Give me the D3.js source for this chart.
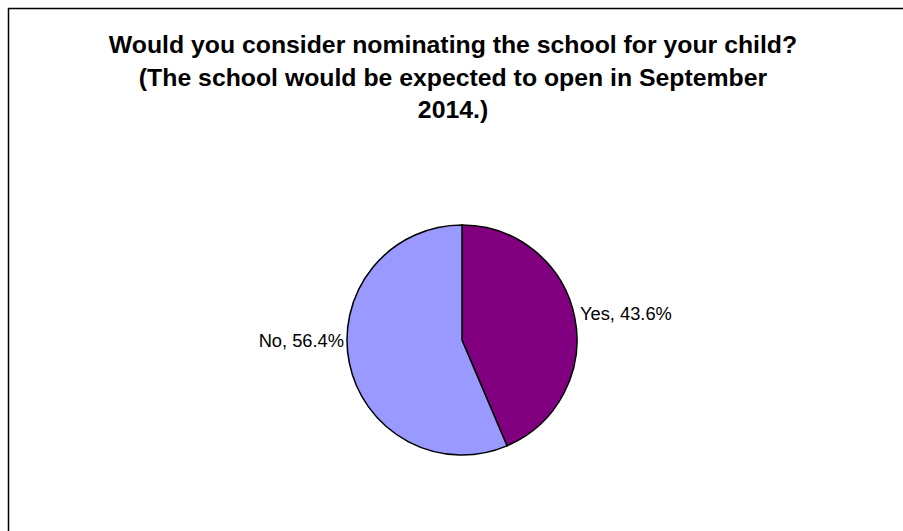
<!DOCTYPE html>
<html><head><meta charset="utf-8">
<script src="https://cdn.jsdelivr.net/npm/d3@7"></script>
<style>html,body{margin:0;padding:0;background:#fff;}</style>
</head><body>
<svg id="chart" width="903" height="531"></svg>
<script>
const categories = ["Yes", "No"];
const values = [43.6, 56.4];
const colors = ["#800080", "#9999FF"];
const titleLines = ["Would you consider nominating the school for your child?",
  "(The school would be expected to open in September", "2014.)"];

const svg = d3.select("#chart");
svg.append("rect").attr("x", 8.5).attr("y", 8.5).attr("width", 920).attr("height", 560)
  .attr("fill", "#fff").attr("stroke", "#000").attr("stroke-width", 1.5);

const title = svg.append("text").attr("text-anchor", "middle")
  .attr("font-family", "Liberation Sans, Arial, sans-serif").attr("font-weight", "bold")
  .attr("font-size", 24.8).attr("fill", "#000");
titleLines.forEach((t, i) => title.append("tspan").attr("x", 453).attr("y", 53 + i * 32.5).text(t));

const cx = 462, cy = 340, r = 115;
const data = categories.map((c, i) => ({cat: c, value: values[i], color: colors[i]}));
const pie = d3.pie().value(d => d.value).sort(null);
const arc = d3.arc().innerRadius(0).outerRadius(r);
const g = svg.append("g").attr("transform", `translate(${cx},${cy})`);
const arcs = pie(data);
g.selectAll("path").data(arcs).join("path")
  .attr("d", arc).attr("fill", d => d.data.color)
  .attr("stroke", "#000").attr("stroke-width", 1.5);

const fmt = d => `${d.data.cat}, ${d.data.value.toFixed(1)}%`;
const labelDy = [-20, 7];
arcs.forEach((d, i) => {
  const mid = (d.startAngle + d.endAngle) / 2;
  const side = Math.sin(mid) >= 0 ? 1 : -1;
  g.append("text").attr("x", side * (r + 3)).attr("y", labelDy[i])
    .attr("text-anchor", side > 0 ? "start" : "end")
    .attr("font-family", "Liberation Sans, Arial, sans-serif").attr("font-size", 18.3)
    .attr("fill", "#000").text(fmt(d));
});
</script>
</body></html>
